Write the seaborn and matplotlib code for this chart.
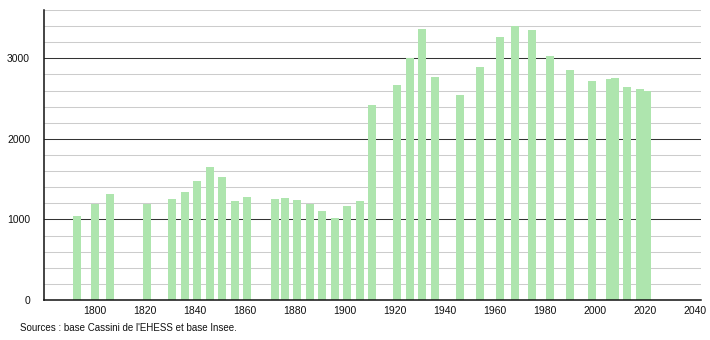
import matplotlib
matplotlib.use("Agg")
import matplotlib.pyplot as plt
import seaborn as sns
import pandas as pd

years = [1793, 1800, 1806, 1821, 1831, 1836, 1841, 1846, 1851, 1856, 1861,
         1872, 1876, 1881, 1886, 1891, 1896, 1901, 1906, 1911,
         1921, 1926, 1931, 1936, 1946, 1954, 1962, 1968, 1975, 1982,
         1990, 1999, 2006, 2008, 2013, 2018, 2021]
population = [1045, 1193, 1312, 1189, 1251, 1341, 1473, 1646, 1526, 1226, 1279,
              1251, 1263, 1247, 1189, 1102, 1016, 1164, 1230, 2423,
              2674, 3004, 3365, 2769, 2547, 2893, 3267, 3399, 3353, 3028,
              2856, 2720, 2741, 2760, 2646, 2625, 2596]
x_ticks = list(range(1800, 2041, 20))
y_ticks = [0, 1000, 2000, 3000]
source_text = "Sources : base Cassini de l'EHESS et base Insee."

df = pd.DataFrame({"year": years, "pop": population})

sns.set_style("white")
plt.rcParams["font.family"] = ["Liberation Sans", "DejaVu Sans"]

fig = plt.figure(figsize=(7.1, 3.4), dpi=100)
ax = fig.add_axes([44 / 710, 40 / 340, (701 - 44) / 710, (300 - 10) / 340])

# grid lines
for v in range(200, 3601, 200):
    if v % 1000 == 0:
        ax.axhline(v, color="#333333", lw=0.75, zorder=0)
    else:
        ax.axhline(v, color="#cccccc", lw=0.75, zorder=0)

sns.barplot(data=df, x="year", y="pop", native_scale=True, width=1.6,
            color="#aee5ae", saturation=1, ax=ax, zorder=2, linewidth=0)

ax.set_xlim(1779.7, 2042.5)
ax.set_ylim(0, 3600)
ax.set_xticks(x_ticks)
ax.set_xticklabels([str(t) for t in x_ticks])
ax.set_yticks(y_ticks)
ax.set_yticks(range(0, 3601, 200), minor=True)
ax.tick_params(axis="x", length=0, labelsize=7.5, pad=4, colors="#111111")
ax.tick_params(axis="y", which="major", length=4, width=1, labelsize=7.5, pad=6, colors="#111111")
ax.tick_params(axis="y", which="minor", length=3, width=0.8, color="#111111")
ax.tick_params(axis="y", which="major", color="#111111")
ax.set_xlabel("")
ax.set_ylabel("")
for s in ["top", "right"]:
    ax.spines[s].set_visible(False)
ax.spines["left"].set_color("#111111")
ax.spines["bottom"].set_color("#111111")
ax.spines["left"].set_linewidth(1.1)
ax.spines["bottom"].set_linewidth(1.1)

fig.text(20 / 710, 1 - 328 / 340, source_text, fontsize=7, va="center", ha="left", color="#111111")

fig.savefig("out.png", dpi=100)
